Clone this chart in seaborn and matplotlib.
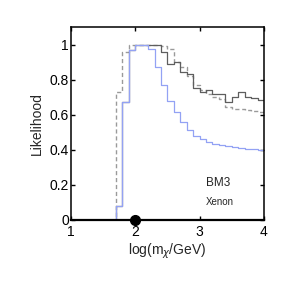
"""Step likelihood curves vs log(m_chi/GeV), BM3 Xenon."""
import numpy as np
import pandas as pd
import matplotlib
matplotlib.use("Agg")
import matplotlib.pyplot as plt
import seaborn as sns

# bin left edges (log10 mass), 0.1 wide from 1.0 to 3.9
log_m = [1.0, 1.1, 1.2, 1.3, 1.4, 1.5, 1.6, 1.7, 1.8, 1.9,
         2.0, 2.1, 2.2, 2.3, 2.4, 2.5, 2.6, 2.7, 2.8, 2.9,
         3.0, 3.1, 3.2, 3.3, 3.4, 3.5, 3.6, 3.7, 3.8, 3.9]

like_blue = [0, 0, 0, 0, 0, 0, 0, 0.08, 0.67, 0.97,
             1.0, 1.0, 0.975, 0.87, 0.77, 0.68, 0.615, 0.56, 0.515, 0.48,
             0.46, 0.445, 0.435, 0.427, 0.42, 0.415, 0.41, 0.407, 0.404, 0.40]

like_solid = [0, 0, 0, 0, 0, 0, 0, 0.08, 0.67, 0.97,
              1.0, 1.0, 1.0, 1.0, 0.96, 0.89, 0.90, 0.845, 0.83, 0.755,
              0.73, 0.74, 0.716, 0.716, 0.674, 0.70, 0.727, 0.70, 0.695, 0.687]

like_dashed = [0, 0, 0, 0, 0, 0, 0, 0.73, 0.96, 1.0,
               1.0, 1.0, 1.0, 1.0, 0.99, 0.975, 0.90, 0.87, 0.82, 0.77,
               0.74, 0.72, 0.70, 0.69, 0.645, 0.635, 0.63, 0.625, 0.62, 0.615]

x_end = 4.0
benchmark_x = 2.0


def steps(y):
    # repeat last value at the right edge so the final bin is drawn
    return pd.DataFrame({"x": log_m + [x_end], "y": y + [y[-1]]})


sns.set_theme(style="ticks")
plt.rcParams["font.family"] = ["Liberation Sans", "DejaVu Sans"]

fig = plt.figure(figsize=(2.91, 2.91), dpi=100)
ax = fig.add_axes([0.244, 0.244, 0.663, 0.663])

sns.lineplot(data=steps(like_dashed), x="x", y="y", drawstyle="steps-post",
             color="#9a9a9a", linestyle=(0, (3, 2)), linewidth=1.0, ax=ax)
sns.lineplot(data=steps(like_solid), x="x", y="y", drawstyle="steps-post",
             color="#5e5e5e", linewidth=0.9, ax=ax)
sns.lineplot(data=steps(like_blue), x="x", y="y", drawstyle="steps-post",
             color="#93a2f4", linewidth=0.9, ax=ax)

ax.plot([benchmark_x], [0], "o", color="black", markersize=7, clip_on=False, zorder=5)

ax.set_xlim(1, 4)
ax.set_ylim(0, 1.1)
ax.set_xticks([1, 2, 3, 4])
ax.set_xticklabels(["1", "2", "3", "4"])
ax.set_yticks([0, 0.2, 0.4, 0.6, 0.8, 1.0])
ax.set_yticklabels(["0", "0.2", "0.4", "0.6", "0.8", "1"])
ax.tick_params(direction="in", length=3, width=1, labelsize=10,
               top=True, right=True, colors="black")
ax.tick_params(axis="y", pad=1.5)
ax.tick_params(axis="x", pad=3.5)
for s in ax.spines.values():
    s.set_linewidth(1.1)
    s.set_color("black")
ax.spines["bottom"].set_linewidth(1.6)

ax.set_xlabel(r"log(m$_\chi$/GeV)", fontsize=10, labelpad=2)
ax.set_ylabel("Likelihood", fontsize=10, labelpad=4)

ax.text(3.1, 0.21, "BM3", fontsize=8.5, va="center", ha="left")
ax.text(3.1, 0.105, "Xenon", fontsize=7, va="center", ha="left")

fig.savefig("out.png", dpi=100)
